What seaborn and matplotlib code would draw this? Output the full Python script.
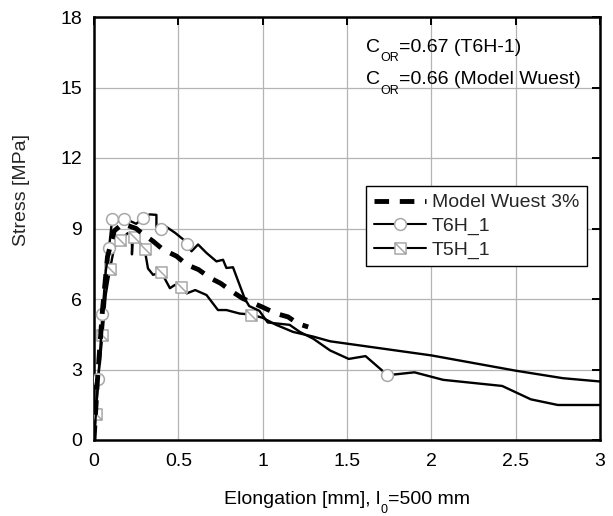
import numpy as np
import pandas as pd
import matplotlib
matplotlib.use("Agg")
import matplotlib.pyplot as plt
from matplotlib.path import Path
from matplotlib.lines import Line2D
from matplotlib.transforms import IdentityTransform
import seaborn as sns

# ---- data ----
t6_x = [0.0, 0.01, 0.025, 0.04, 0.05, 0.07, 0.089, 0.10, 0.108, 0.14, 0.18, 0.22, 0.25, 0.29,
        0.33, 0.37, 0.37, 0.40, 0.42, 0.48, 0.53, 0.55, 0.578, 0.617, 0.667, 0.726, 0.765,
        0.785, 0.824, 0.893, 0.92, 0.98, 1.03, 1.16, 1.22, 1.30, 1.40, 1.51, 1.61, 1.74,
        1.77, 1.90, 2.07, 2.42, 2.59, 2.75, 3.0]
t6_y = [0.0, 1.0, 2.59, 4.2, 5.38, 7.2, 8.15, 8.9, 9.39, 9.3, 9.39, 9.3, 9.2, 9.44,
        9.6, 9.58, 8.89, 8.98, 9.11, 8.82, 8.53, 8.32, 8.03, 8.32, 7.96, 7.6, 7.67,
        7.32, 7.35, 6.03, 5.7, 5.5, 5.0, 4.9, 4.6, 4.31, 3.81, 3.45, 3.57, 2.76,
        2.78, 2.88, 2.56, 2.3, 1.73, 1.49, 1.49]
t6_marks = [2, 4, 6, 8, 10, 13, 17, 21, 39]

t5_x = [0.0, 0.01, 0.03, 0.05, 0.07, 0.095, 0.12, 0.154, 0.2, 0.225, 0.225, 0.23, 0.24, 0.26,
        0.30, 0.32, 0.35, 0.40, 0.45, 0.48, 0.515, 0.55, 0.60, 0.667, 0.735, 0.785, 0.864,
        0.93, 1.0, 1.08, 1.18, 1.30, 1.40, 2.0, 2.5, 2.78, 3.0]
t5_y = [0.0, 1.09, 3.0, 4.48, 6.2, 7.27, 8.2, 8.49, 8.8, 8.75, 7.9, 8.6, 8.63, 8.5,
        8.13, 7.3, 7.03, 7.13, 6.46, 6.6, 6.53, 6.24, 6.38, 6.17, 5.53, 5.53, 5.38,
        5.34, 5.2, 4.9, 4.6, 4.4, 4.2, 3.6, 2.95, 2.63, 2.49]
t5_marks = [1, 3, 5, 7, 12, 14, 17, 20, 27]

model_x = [0.0, 0.02, 0.05, 0.08, 0.12, 0.17, 0.25, 0.28, 0.35, 0.41, 0.49, 0.55, 0.62,
           0.69, 0.75, 0.82, 0.88, 1.0, 1.08, 1.15, 1.21, 1.27]
model_y = [0.0, 2.5, 5.5, 7.8, 8.9, 9.2, 9.0, 8.82, 8.46, 8.1, 7.82, 7.46, 7.25,
           6.89, 6.67, 6.31, 6.03, 5.65, 5.38, 5.24, 4.95, 4.81]

series_labels = ["Model Wuest 3%", "T6H_1", "T5H_1"]
x_ticks = [0, 0.5, 1, 1.5, 2, 2.5, 3]
x_tick_labels = ['0', '0.5', '1', '1.5', '2', '2.5', '3']
y_ticks = [0, 3, 6, 9, 12, 15, 18]

# ---- style ----
sns.set_theme(style="white")
plt.rcParams['font.family'] = ['Liberation Sans', 'DejaVu Sans']

W, H = 613, 516
fig = plt.figure(figsize=(W / 100, H / 100), dpi=100)
ax = fig.add_axes([94 / W, (H - 440) / H, (600 - 94) / W, (440 - 17) / H])

sq_path = Path([(-1, -1), (1, -1), (1, 1), (-1, 1), (-1, -1), (-1, 1), (1, -1)],
               [Path.MOVETO, Path.LINETO, Path.LINETO, Path.LINETO, Path.CLOSEPOLY,
                Path.MOVETO, Path.LINETO])

mk_edge = '#a8a8a8'
dash = (3.0, 2.2)

df6 = pd.DataFrame({'x': t6_x, 'y': t6_y})
df5 = pd.DataFrame({'x': t5_x, 'y': t5_y})
dfm = pd.DataFrame({'x': model_x, 'y': model_y})

sns.lineplot(data=df5, x='x', y='y', ax=ax, sort=False, estimator=None, color='black',
             lw=1.7, marker=sq_path, markevery=t5_marks, mfc='white', mec=mk_edge,
             ms=8, mew=1.1, zorder=3)
sns.lineplot(data=df6, x='x', y='y', ax=ax, sort=False, estimator=None, color='black',
             lw=1.7, marker='o', markevery=t6_marks, mfc='white', mec=mk_edge,
             ms=8.5, mew=1.1, zorder=4)
sns.lineplot(data=dfm, x='x', y='y', ax=ax, sort=False, estimator=None, color='black',
             lw=3.5, dashes=dash, zorder=5)

ax.set_xlim(0, 3)
ax.set_ylim(0, 18)
ax.set_xticks(x_ticks)
ax.set_xticklabels(x_tick_labels)
ax.set_yticks(y_ticks)
ax.grid(True, color='#b4b4b4', lw=0.9)
for s in ax.spines.values():
    s.set_visible(True)
    s.set_color('black')
    s.set_linewidth(1.8)
ax.tick_params(direction='in', length=6, width=1.4, top=True, right=True,
               labelsize=14, colors='black')
ax.tick_params(axis='x', pad=9)
ax.tick_params(axis='y', pad=8.5)
ax.set_xlabel('')
ax.set_ylabel('Stress [MPa]', fontsize=14)
ax.yaxis.set_label_coords((30 - 94) / (600 - 94), (440 - 190) / (440 - 17))

handles = [
    Line2D([], [], color='black', lw=3.5, dashes=dash),
    Line2D([], [], color='black', lw=1.5, marker='o', mfc='white', mec=mk_edge, ms=8.5, mew=1.1),
    Line2D([], [], color='black', lw=1.5, marker=sq_path, mfc='white', mec=mk_edge, ms=8, mew=1.1),
]
leg = ax.legend(handles, series_labels, loc='upper right',
                bbox_to_anchor=((587 - 94) / 506, (440 - 186) / 423),
                fontsize=14, frameon=True, fancybox=False, edgecolor='black',
                handlelength=2.7, borderpad=0.4, labelspacing=0.3, handletextpad=0.3,
                borderaxespad=0)
leg.get_frame().set_linewidth(1.0)
leg.get_frame().set_alpha(1)

# ---- composed texts with big, low subscripts ----
fig.canvas.draw()
renderer = fig.canvas.get_renderer()


def compose(x_img, y_img, parts, center=False):
    """parts: list of (text, fontsize, drop_px). Coordinates in image pixels (top-left origin)."""
    objs = []
    x = 0.0
    for s, fs, drop in parts:
        t = fig.text(0, 0, s, fontsize=fs, ha='left', va='baseline',
                     transform=IdentityTransform(), color='black')
        w = t.get_window_extent(renderer).width
        objs.append((t, x, drop))
        x += w
    x0 = x_img - x / 2 if center else x_img
    for t, dx, drop in objs:
        t.set_position((x0 + dx, H - y_img - drop))


compose(366, 52, [('C', 14, 0), ('OR', 9, 9), ('=0.67 (T6H-1)', 14, 0)])
compose(366, 84, [('C', 14, 0), ('OR', 9, 9.5), ('=0.66 (Model Wuest)', 14, 0)])
compose(347, 504, [('Elongation [mm], l', 14, 0), ('0', 9, 9), ('=500 mm', 14, 0)], center=True)

fig.savefig('out.png', dpi=100)
